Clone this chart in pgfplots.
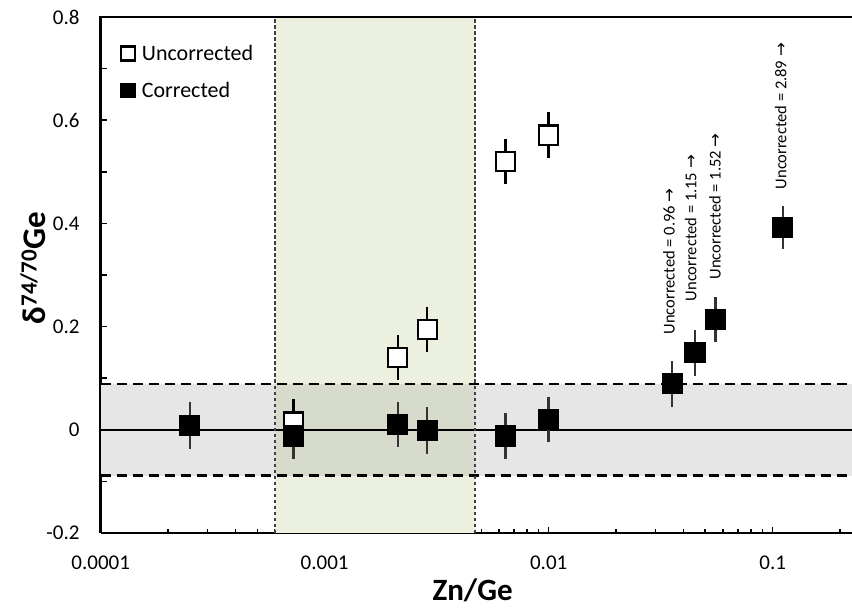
\documentclass[border=0pt]{standalone}
\usepackage{fontspec}
\setmainfont{Carlito}
\newfontfamily\djv{DejaVu Sans}
\usepackage{pgfplots}
\pgfplotsset{compat=1.18}
\definecolor{grayband}{HTML}{E6E6E6}
\definecolor{greenband}{HTML}{EBF1DE}
\definecolor{overlapc}{HTML}{D6DBCB}
\begin{document}
\begin{tikzpicture}
\begin{axis}[
  name=ax,
  scale only axis, width=751.3pt, height=516pt,
  xmode=log, xmin=1e-4, xmax=0.226, ymin=-0.2, ymax=0.8,
  axis x line*=bottom, axis y line*=left,
  axis line style={line width=2.5pt, -},
  tick align=inside,
  xtick={0.0001,0.001,0.01,0.1}, xticklabels={0.0001,0.001,0.01,0.1},
  minor xtick={2e-4,3e-4,4e-4,5e-4,6e-4,7e-4,8e-4,9e-4,2e-3,3e-3,4e-3,5e-3,6e-3,7e-3,8e-3,9e-3,0.02,0.03,0.04,0.05,0.06,0.07,0.08,0.09,0.2},
  ytick={-0.2,-0.1,0,0.1,0.2,0.3,0.4,0.5,0.6,0.7,0.8},
  yticklabels={-0.2,,0,,0.2,,0.4,,0.6,,0.8},
  major tick length=6.5pt, minor tick length=4.5pt,
  tick style={black, line width=1.5pt},
  tick label style={font=\fontsize{21}{25}\selectfont},
  xticklabel style={anchor=base, inner sep=0pt, yshift=-36pt},
  yticklabel style={anchor=east, inner sep=0pt, xshift=-21pt},
  xlabel={\textbf{Zn/Ge}},
  xlabel style={font=\fontsize{31}{36}\selectfont, at={(axis description cs:0.495,0)}, anchor=base, yshift=-67pt},
  ylabel={\textbf{δ\textsuperscript{74/70}Ge}},
  ylabel style={font=\fontsize{33}{38}\selectfont, at={(axis description cs:-0.09,0.514)}, anchor=center, rotate=0},
  legend style={draw=none, fill=none, at={(axis description cs:0,1)}, anchor=north west,
    xshift=20pt, yshift=-26pt, font=\fontsize{22}{26}\selectfont, row sep=16pt, column sep=5pt,
    inner sep=0pt, nodes={inner sep=2pt}},
  legend cell align=left,
  legend image code/.code={\draw[#1, mark size=7pt] plot coordinates {(0pt,0pt)};},
]
% background bands
\addplot[fill=greenband, draw=none, forget plot] coordinates {(6e-4,-0.2) (4.69e-3,-0.2) (4.69e-3,0.8) (6e-4,0.8)} -- cycle;
\addplot[fill=grayband, draw=none, forget plot] coordinates {(1e-4,-0.089) (0.226,-0.089) (0.226,0.089) (1e-4,0.089)} -- cycle;
\addplot[fill=overlapc, draw=none, forget plot] coordinates {(6e-4,-0.089) (4.69e-3,-0.089) (4.69e-3,0.089) (6e-4,0.089)} -- cycle;
\addplot[black, line width=2.5pt, forget plot] coordinates {(1e-4,0) (0.226,0)};
\addplot[black, line width=2.6pt, dash pattern=on 10pt off 6pt, forget plot] coordinates {(1e-4,0.089) (0.226,0.089)};
\addplot[black, line width=2.6pt, dash pattern=on 10pt off 6pt, forget plot] coordinates {(1e-4,-0.089) (0.226,-0.089)};
\addplot[black!75, line width=1.3pt, dash pattern=on 3.5pt off 2.5pt, forget plot] coordinates {(6e-4,-0.2) (6e-4,0.8)};
\addplot[black!75, line width=1.3pt, dash pattern=on 3.5pt off 2.5pt, forget plot] coordinates {(4.69e-3,-0.2) (4.69e-3,0.8)};
% uncorrected
\addplot[only marks, mark=square*, mark size=9.6pt, mark options={fill=white, draw=black, line width=2.2pt},
  error bars/.cd, y dir=both, y explicit, error mark=none, error bar style={line width=2.5pt, black}]
  table[x=x, y=y, y error=e] {
x y e
7.27e-4 0.015 0.045
2.12e-3 0.140 0.044
2.87e-3 0.194 0.044
6.4e-3 0.520 0.044
1.0e-2 0.571 0.044
};
\addlegendentry{Uncorrected}
% corrected
\addplot[only marks, mark=square*, mark size=9.8pt, mark options={fill=black, draw=black, line width=1.5pt},
  error bars/.cd, y dir=both, y explicit, error mark=none, error bar style={line width=2.5pt, black!80}]
  table[x=x, y=y, y error=e] {
x y e
2.5e-4 0.008 0.046
7.27e-4 -0.012 0.045
2.12e-3 0.010 0.044
2.87e-3 -0.001 0.045
6.4e-3 -0.012 0.045
1.0e-2 0.020 0.044
0.0356 0.089 0.044
0.045 0.149 0.044
0.0557 0.214 0.044
0.111 0.392 0.042
};
\addlegendentry{Corrected}
\node[rotate=90, anchor=west, inner sep=0pt, font=\fontsize{16.5}{20}\selectfont] at (axis cs:0.0344,0.1845) {Uncorrected = 0.96 {\djv →}};
\node[rotate=90, anchor=west, inner sep=0pt, font=\fontsize{16.5}{20}\selectfont] at (axis cs:0.0431,0.249) {Uncorrected = 1.15 {\djv →}};
\node[rotate=90, anchor=west, inner sep=0pt, font=\fontsize{16.5}{20}\selectfont] at (axis cs:0.0552,0.291) {Uncorrected = 1.52 {\djv →}};
\node[rotate=90, anchor=west, inner sep=0pt, font=\fontsize{16.5}{20}\selectfont] at (axis cs:0.1087,0.466) {Uncorrected = 2.89 {\djv →}};
\end{axis}
\draw[line width=2.5pt] ([xshift=-1.25pt]ax.north west) -- ([xshift=5pt]ax.north east);
\pgfresetboundingbox
\path[use as bounding box] ([xshift=-100.7pt,yshift=-75pt]ax.south west) rectangle ([yshift=17pt]ax.north east);
\end{tikzpicture}
\end{document}
